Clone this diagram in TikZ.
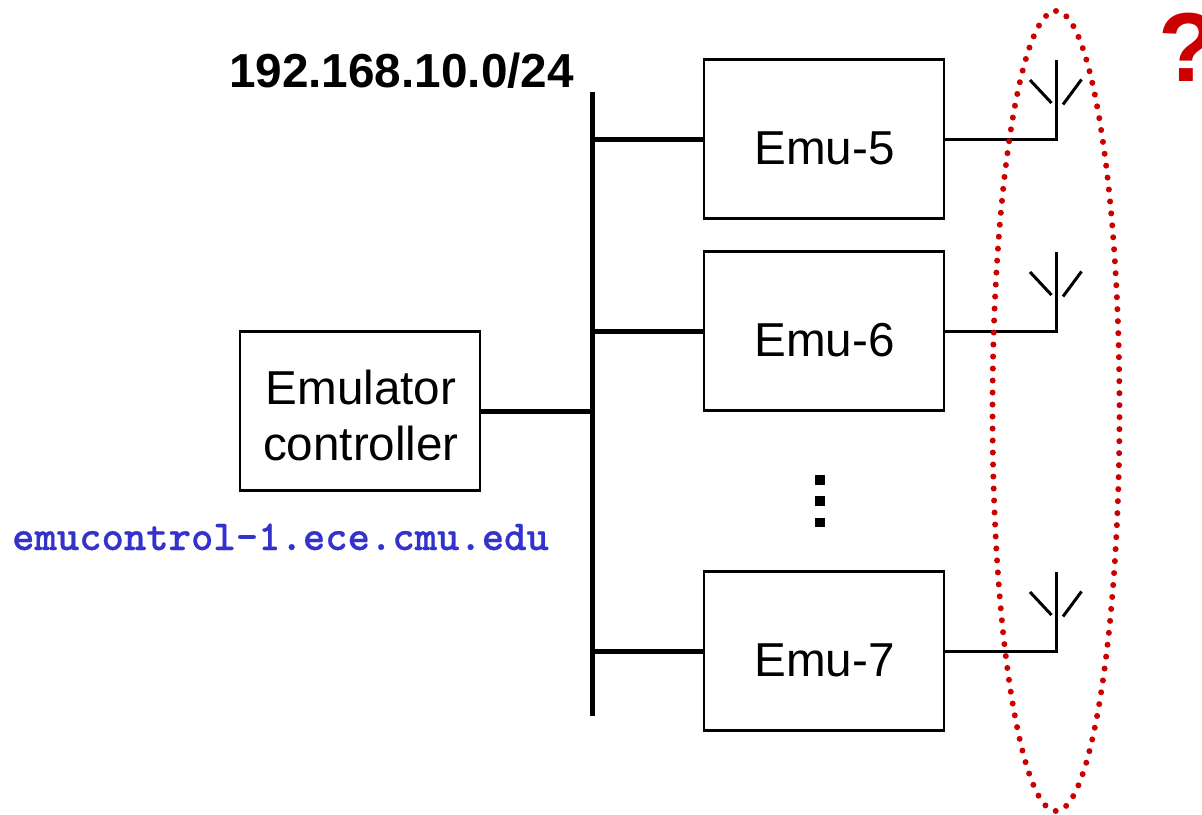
\documentclass[tikz,border=0pt]{standalone}
\usepackage{fontspec}
\setmainfont{Liberation Sans}
\newfontfamily\urlfont[Extension=.otf,FakeBold=0.5]{lmmonolt10-bold}
\definecolor{dotred}{HTML}{CC0000}
\definecolor{urlblue}{HTML}{3333CC}
\tikzset{
  box/.style={draw=black,line width=2.4bp,fill=white,minimum width=240bp,minimum height=159bp,inner sep=0pt,anchor=north west,outer sep=0pt},
  lbl/.style={inner sep=0pt,anchor=base,font=\fontsize{47.6bp}{56bp}\selectfont},
  bus/.style={line width=5bp,black},
  wire/.style={line width=3bp,black,line join=miter},
  sq/.style={fill=black,draw=none,minimum size=9.5bp,inner sep=0pt},
}
\begin{document}
\begin{tikzpicture}[x=1bp,y=-1bp]
\useasboundingbox (0,0) rectangle (1202,815);
\clip (0,0) rectangle (1202,815);
% boxes
\node[box] (ctrl) at (240,331.5) {};
\node[box] (emu5) at (704,59.5) {};
\node[box] (emu6) at (704,251.5) {};
\node[box] (emu7) at (704,571.5) {};
% labels
\node[lbl] (ctrl1) at (361,404) {Emulator};
\node[lbl] (ctrl2) at (361,460) {controller};
\node[lbl] (t5) at (824.5,164) {Emu-5};
\node[lbl] (t6) at (824.5,356) {Emu-6};
\node[lbl] (t7) at (824.5,676) {Emu-7};
\node[inner sep=0pt,anchor=base,font=\fontsize{47.7bp}{56bp}\selectfont\bfseries] (net) at (401.5,88) {192.168.10.0/24};
\node[inner sep=0pt,anchor=base,text=urlblue,font=\fontsize{42.6bp}{50bp}\selectfont\urlfont] (url) at (280.5,550) {emucontrol-1.ece.cmu.edu};
\node[inner sep=0pt,anchor=base west,text=dotred,font=\fontsize{98bp}{112bp}\selectfont\bfseries] (q) at (1158,82) {?};
% bus
\coordinate (bustop) at (592,92);
\coordinate (busbot) at (592,716);
\draw[bus] (bustop) -- (busbot);
\coordinate (j0) at (592,411);
\coordinate (j5) at (592,139);
\coordinate (j6) at (592,331);
\coordinate (j7) at (592,651);
\draw[bus] (j0) -- (j0 -| ctrl.east);
\draw[bus] (j5) -- (j5 -| emu5.west);
\draw[bus] (j6) -- (j6 -| emu6.west);
\draw[bus] (j7) -- (j7 -| emu7.west);
% antennas
\foreach \n/\o in {5/0,6/192,7/512}{
  \coordinate (a\n) at (1056,139+\o);
  \coordinate (at\n) at (1056,60+\o);
  \coordinate (la\n) at (1030,80+\o);
  \coordinate (lb\n) at (1051.5,103+\o);
  \coordinate (ra\n) at (1081.5,79.5+\o);
  \coordinate (rb\n) at (1063,104.5+\o);
  \draw[wire] (a\n -| emu\n.east) -- (a\n) -- (at\n);
  \draw[wire] (la\n) -- (lb\n);
  \draw[wire] (ra\n) -- (rb\n);
}
% vertical dots
\node[sq] (d1) at (820,480) {};
\node[sq] (d2) at (820,501) {};
\node[sq] (d3) at (820,522.5) {};
% dotted ellipse
\coordinate (elltop) at (1056,11);
\draw[dotred,line width=6bp,line cap=round,dash pattern=on 0pt off 12bp] (elltop) arc[start angle=-90,end angle=270,x radius=63.5,y radius=400];
\end{tikzpicture}
\end{document}
